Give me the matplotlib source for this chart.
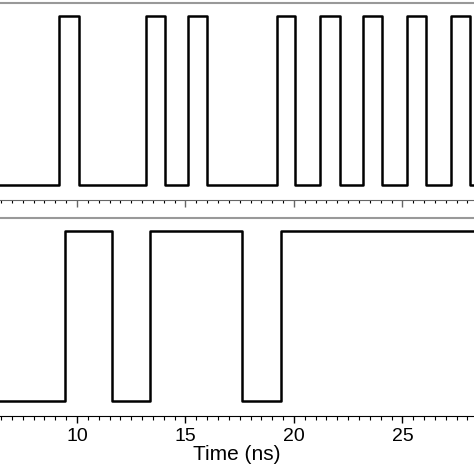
import numpy as np
import matplotlib.pyplot as plt
from matplotlib.ticker import MultipleLocator

plt.rcParams['font.family'] = ['Liberation Sans', 'DejaVu Sans']

# transition times (ns), signal starts low
top_edges = [9.17, 10.09, 13.18, 14.05, 15.11, 15.99, 19.21, 20.04, 21.2, 22.12,
             23.18, 24.05, 25.21, 26.08, 27.23, 28.11]
bottom_edges = [9.45, 11.61, 13.36, 17.6, 19.4]
t_start, t_end = 6.45, 28.3


def square(edges, lo=0.0, hi=1.0):
    t = [t_start]
    y = [lo]
    level = lo
    for e in edges:
        t += [e, e]
        y += [level, hi if level == lo else lo]
        level = y[-1]
    t.append(t_end)
    y.append(level)
    return t, y


fig = plt.figure(figsize=(4.74, 4.74), dpi=100)
ax1 = fig.add_axes([0, 0.578, 1, 0.416])
ax2 = fig.add_axes([0, 0.122, 1, 0.418])

for ax, edges in [(ax1, top_edges), (ax2, bottom_edges)]:
    t, y = square(edges)
    ax.plot(t, y, color='black', lw=1.8)
    ax.set_xlim(t_start, t_end)
    ax.set_ylim(-0.088, 1.077)
    ax.set_yticks([])
    ax.spines['left'].set_visible(False)
    ax.spines['right'].set_visible(False)
    ax.spines['top'].set_color('#999999')
    ax.spines['top'].set_linewidth(1.5)
    ax.xaxis.set_major_locator(MultipleLocator(5))
    ax.xaxis.set_minor_locator(MultipleLocator(0.5))
    ax.tick_params(axis='x', which='major', length=5, width=1, direction='out')
    ax.tick_params(axis='x', which='minor', length=3, width=0.8, direction='out')

ax1.spines['bottom'].set_color('#666666')
ax1.tick_params(axis='x', labelbottom=False, colors='#666666')
ax1.tick_params(axis='x', which='minor', length=2)
ax2.set_xticks([10, 15, 20, 25])
ax2.tick_params(axis='x', labelsize=14)
ax2.set_xlabel('Time (ns)', fontsize=15, labelpad=0)

fig.savefig('out.png', dpi=100)
